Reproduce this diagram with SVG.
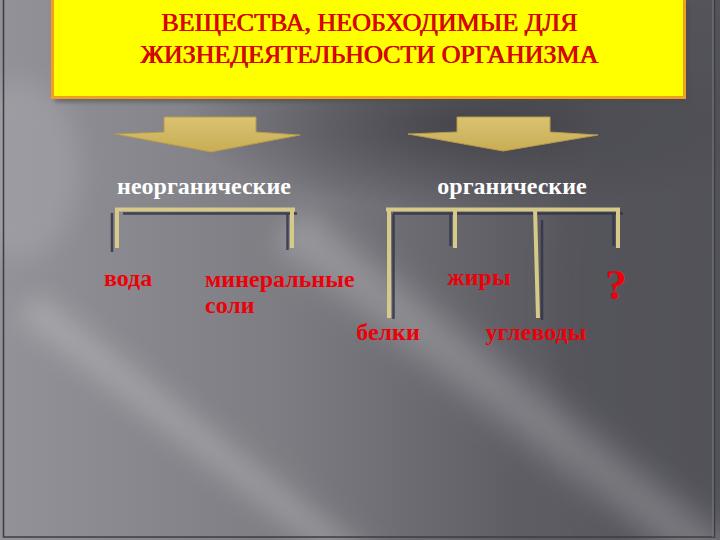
<svg xmlns="http://www.w3.org/2000/svg" width="720" height="540" viewBox="0 0 720 540">
<defs>
<linearGradient id="bg" x1="0" y1="0" x2="1" y2="0">
<stop offset="0" stop-color="#929298"/>
<stop offset="0.4" stop-color="#7c7c82"/>
<stop offset="0.72" stop-color="#5e5d64"/>
<stop offset="1" stop-color="#57565d"/>
</linearGradient>
<radialGradient id="darktop" cx="0.5" cy="0.5" r="0.5">
<stop offset="0" stop-color="#3e3e44" stop-opacity="0.85"/>
<stop offset="1" stop-color="#3e3e44" stop-opacity="0"/>
</radialGradient>
<linearGradient id="streak" x1="0" y1="0" x2="0" y2="1">
<stop offset="0" stop-color="#ffffff" stop-opacity="0"/>
<stop offset="0.5" stop-color="#ffffff" stop-opacity="0.26"/>
<stop offset="1" stop-color="#ffffff" stop-opacity="0"/>
</linearGradient>
<filter id="blur" x="-20%" y="-20%" width="140%" height="140%"><feGaussianBlur stdDeviation="12"/></filter>
<filter id="sblur" x="-10%" y="-10%" width="120%" height="140%"><feGaussianBlur stdDeviation="2"/></filter>
<linearGradient id="arrowg" x1="0" y1="0" x2="0" y2="1">
<stop offset="0" stop-color="#d9c272"/>
<stop offset="1" stop-color="#c9ad55"/>
</linearGradient>
</defs>
<style>
.title{font-family:"Liberation Serif","Times New Roman",serif;font-size:26px;text-anchor:middle}
.tsh{fill:#700000}
.tf{fill:#e80000}
.cat{font-family:"Liberation Serif","Times New Roman",serif;font-size:24px;font-weight:bold;fill:#ffffff;text-anchor:middle}
.lbl{font-family:"Liberation Serif","Times New Roman",serif;font-size:24px;font-weight:bold;fill:#ee0008}
.tan{stroke:#d6ca88;stroke-width:4;fill:none;stroke-linecap:butt}
.shd{stroke:#34344a;stroke-width:2.5;fill:none;opacity:0.85}
.arrow{fill:url(#arrowg);stroke:#b79b48;stroke-width:1}
</style>
<g id="background">
<rect x="0" y="0" width="720" height="540" fill="url(#bg)"/>
<ellipse cx="480" cy="125" rx="300" ry="85" fill="url(#darktop)"/>
<ellipse cx="700" cy="300" rx="150" ry="300" fill="#505057" opacity="0.5" filter="url(#blur)"/>
<ellipse cx="20" cy="170" rx="60" ry="90" fill="#b0b0b6" opacity="0.35" filter="url(#blur)"/>
<g filter="url(#blur)">
<rect x="-40" y="-40" width="640" height="80" fill="url(#streak)" transform="translate(320,250) rotate(38)"/>
<rect x="-40" y="-25" width="500" height="50" fill="url(#streak)" transform="translate(60,330) rotate(38)"/>
</g>
<rect x="3.5" y="-1" width="711" height="538" fill="none" stroke="#3c3c42" stroke-width="1.5"/>
<line x1="713" y1="0" x2="713" y2="537" stroke="#7a7a80" stroke-width="1"/>
</g>
<g id="title">
<rect x="55" y="2" width="634" height="100" fill="#4a4a50" opacity="0.6" filter="url(#sblur)"/>
<rect x="52.5" y="-2" width="632" height="99.5" fill="#ffff00" stroke="#f0a020" stroke-width="3"/>
<text class="title tsh" x="369.8" y="31.3">ВЕЩЕСТВА, НЕОБХОДИМЫЕ ДЛЯ</text>
<text class="title tf" x="369" y="30.5">ВЕЩЕСТВА, НЕОБХОДИМЫЕ ДЛЯ</text>
<text class="title tsh" x="369.8" y="63.3">ЖИЗНЕДЕЯТЕЛЬНОСТИ ОРГАНИЗМА</text>
<text class="title tf" x="369" y="62.5">ЖИЗНЕДЕЯТЕЛЬНОСТИ ОРГАНИЗМА</text>
</g>
<g id="arrow-left">
<polygon class="arrow" points="164,117 256,117 256,132 300,135 211,152 115,134 164,132"/>
</g>
<g id="arrow-right">
<polygon class="arrow" points="457,117 550,117 550,132 598,135 503,151 408,134 457,132"/>
</g>
<g id="node-inorganic"><text class="cat" x="204" y="194">неорганические</text></g>
<g id="node-organic"><text class="cat" x="512" y="194">органические</text></g>
<g id="connectors">
<g id="bracket-inorganic">
<path class="shd" d="M123,213.5 H297 M112,213 V252 M287.5,213 V250"/>
<path class="tan" d="M115,209.5 H295 M117,208 V248 M292,208 V248"/>
</g>
<g id="bracket-organic">
<path class="shd" d="M393,213.5 H623 M393.5,214 V319 M450.5,214 V246 M542,220 V320 M613.5,214 V246"/>
<path class="tan" d="M386,209.5 H620 M389,208 V318 M455,208 V248 M535,208 L538,318 M618,208 V248"/>
</g>
</g>
<g id="node-water"><text class="lbl" x="104" y="286">вода</text></g>
<g id="node-minerals"><text class="lbl" x="205" y="287">минеральные</text><text class="lbl" x="205" y="313">соли</text></g>
<g id="node-fats"><text class="lbl" x="479" y="285" text-anchor="middle">жиры</text></g>
<g id="node-proteins"><text class="lbl" x="388" y="340" text-anchor="middle">белки</text></g>
<g id="node-carbs"><text class="lbl" x="536" y="340" text-anchor="middle">углеводы</text></g>
<g id="node-unknown"><text class="lbl" x="616" y="299" text-anchor="middle" style="font-size:43px">?</text></g>
</svg>
